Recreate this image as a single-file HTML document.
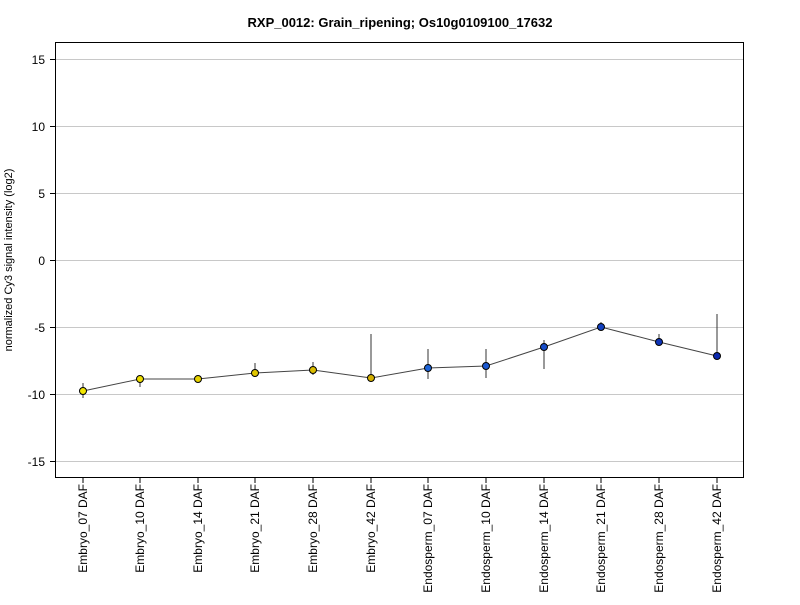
<!DOCTYPE html>
<html><head><meta charset="utf-8"><style>body{margin:0;background:#fff}</style></head><body>
<svg width="800" height="600" xmlns="http://www.w3.org/2000/svg" font-family="Liberation Sans, sans-serif">
<rect width="800" height="600" fill="#fff"/>
<text x="400" y="27" text-anchor="middle" font-size="13" font-weight="bold">RXP_0012: Grain_ripening; Os10g0109100_17632</text>
<g stroke="#c8c8c8" stroke-width="1">
<line x1="55" x2="743" y1="59.5" y2="59.5"/><line x1="55" x2="743" y1="126.5" y2="126.5"/>
<line x1="55" x2="743" y1="193.5" y2="193.5"/><line x1="55" x2="743" y1="260.5" y2="260.5"/>
<line x1="55" x2="743" y1="327.5" y2="327.5"/><line x1="55" x2="743" y1="394.5" y2="394.5"/>
<line x1="55" x2="743" y1="461.5" y2="461.5"/>
</g>
<rect x="55.5" y="42.5" width="688" height="435" fill="none" stroke="#000"/>
<g stroke="#000">
<line x1="50" x2="55" y1="59.5" y2="59.5"/><line x1="50" x2="55" y1="126.5" y2="126.5"/>
<line x1="50" x2="55" y1="193.5" y2="193.5"/><line x1="50" x2="55" y1="260.5" y2="260.5"/>
<line x1="50" x2="55" y1="327.5" y2="327.5"/><line x1="50" x2="55" y1="394.5" y2="394.5"/>
<line x1="50" x2="55" y1="461.5" y2="461.5"/>
</g>
<g font-size="12" text-anchor="end">
<text x="45" y="64">15</text><text x="45" y="131">10</text><text x="45" y="198">5</text>
<text x="45" y="265">0</text><text x="45" y="332">-5</text><text x="45" y="399">-10</text><text x="45" y="466">-15</text>
</g>
<text transform="translate(12,260) rotate(-90)" text-anchor="middle" font-size="11">normalized Cy3 signal intensity (log2)</text>
<g stroke="#000">
<line x1="83" x2="83" y1="478" y2="483"/><line x1="140" x2="140" y1="478" y2="483"/><line x1="198" x2="198" y1="478" y2="483"/>
<line x1="255" x2="255" y1="478" y2="483"/><line x1="313" x2="313" y1="478" y2="483"/><line x1="371" x2="371" y1="478" y2="483"/>
<line x1="428" x2="428" y1="478" y2="483"/><line x1="486" x2="486" y1="478" y2="483"/><line x1="544" x2="544" y1="478" y2="483"/>
<line x1="601" x2="601" y1="478" y2="483"/><line x1="659" x2="659" y1="478" y2="483"/><line x1="717" x2="717" y1="478" y2="483"/>
</g>
<g font-size="12" text-anchor="end">
<text transform="translate(87,484) rotate(-90)">Embryo_07 DAF</text>
<text transform="translate(144,484) rotate(-90)">Embryo_10 DAF</text>
<text transform="translate(202,484) rotate(-90)">Embryo_14 DAF</text>
<text transform="translate(259,484) rotate(-90)">Embryo_21 DAF</text>
<text transform="translate(317,484) rotate(-90)">Embryo_28 DAF</text>
<text transform="translate(375,484) rotate(-90)">Embryo_42 DAF</text>
<text transform="translate(432,484) rotate(-90)">Endosperm_07 DAF</text>
<text transform="translate(490,484) rotate(-90)">Endosperm_10 DAF</text>
<text transform="translate(548,484) rotate(-90)">Endosperm_14 DAF</text>
<text transform="translate(605,484) rotate(-90)">Endosperm_21 DAF</text>
<text transform="translate(663,484) rotate(-90)">Endosperm_28 DAF</text>
<text transform="translate(721,484) rotate(-90)">Endosperm_42 DAF</text>
</g>
<g stroke="#333" stroke-width="1">
<line x1="83" x2="83" y1="383" y2="398"/><line x1="140" x2="140" y1="376" y2="387"/>
<line x1="255" x2="255" y1="363" y2="376"/><line x1="313" x2="313" y1="362" y2="375"/>
<line x1="371" x2="371" y1="334" y2="378"/><line x1="428" x2="428" y1="349" y2="379"/>
<line x1="486" x2="486" y1="349" y2="378"/><line x1="544" x2="544" y1="340" y2="369"/>
<line x1="601" x2="601" y1="322" y2="330"/><line x1="659" x2="659" y1="334" y2="345"/>
<line x1="717" x2="717" y1="314" y2="356"/>
</g>
<polyline fill="none" stroke="#444" points="83,391 140,379 198,379 255,373 313,370 371,378 428,368 486,366 544,347 601,327 659,342 717,356"/>
<g stroke="#000" stroke-width="1">
<circle cx="83" cy="391" r="3.5" fill="#f2e600"/><circle cx="140" cy="379" r="3.5" fill="#ecdc00"/>
<circle cx="198" cy="379" r="3.5" fill="#e6d200"/><circle cx="255" cy="373" r="3.5" fill="#e0c600"/>
<circle cx="313" cy="370" r="3.5" fill="#dabc00"/><circle cx="371" cy="378" r="3.5" fill="#d4b000"/>
<circle cx="428" cy="368" r="3.5" fill="#1e64d8"/><circle cx="486" cy="366" r="3.5" fill="#1a58d0"/>
<circle cx="544" cy="347" r="3.5" fill="#164cc8"/><circle cx="601" cy="327" r="3.5" fill="#1240c0"/>
<circle cx="659" cy="342" r="3.5" fill="#0e34b8"/><circle cx="717" cy="356" r="3.5" fill="#0a28b0"/>
</g>
</svg>
</body></html>
